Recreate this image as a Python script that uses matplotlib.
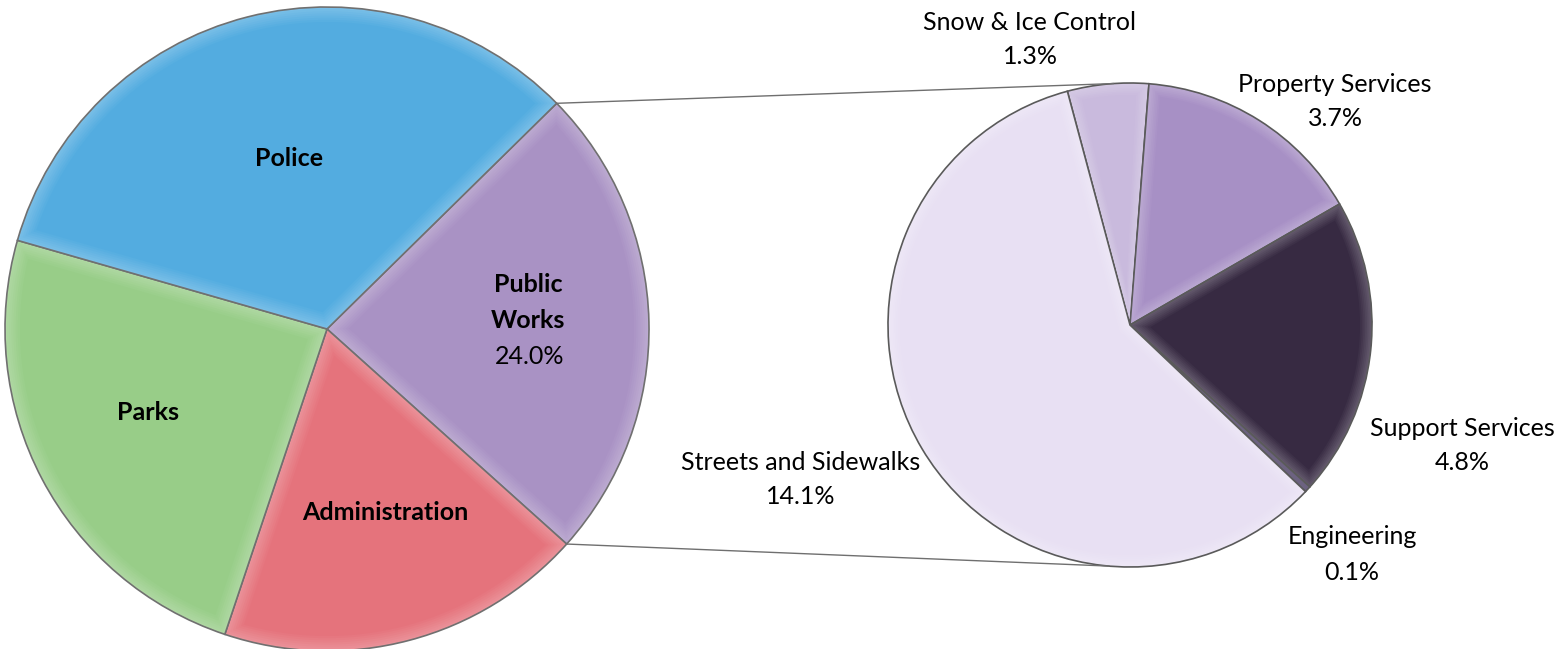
import matplotlib.pyplot as plt
import numpy as np
from matplotlib.patches import Polygon

plt.rcParams['font.family'] = ['Lato', 'DejaVu Sans']

# main budget split
main_labels = ['Public Works', 'Administration', 'Parks', 'Police']
main_values = [24.0, 18.5, 24.3, 33.2]
main_colors = ['#A992C4', '#E5737C', '#98CD88', '#53ACE0']

# breakdown of public works
sub_labels = ['Snow & Ice Control', 'Property Services', 'Support Services',
              'Engineering', 'Streets and Sidewalks']
sub_values = [1.3, 3.7, 4.8, 0.1, 14.1]
sub_colors = ['#C9BADD', '#A790C5', '#372A42', '#6C6280', '#E8E0F3']

W, H = 1559, 649
fig = plt.figure(figsize=(W / 100, H / 100), dpi=100)
ax = fig.add_axes([0, 0, 1, 1])

left_c, left_r = (327, H - 329), 322
right_c, right_r = (1130, H - 325), 242


def tint(c, f):
    rgb = np.array(plt.matplotlib.colors.to_rgb(c))
    if f < 0:
        return tuple(rgb * (1 + f))
    return tuple(rgb + (1 - rgb) * f)


def inset(w, d):
    cx, cy = w.center
    r = w.r
    t1, t2 = np.radians(w.theta1), np.radians(w.theta2)
    span = t2 - t1
    off = np.arcsin(min(d / (r - d), 1)) if d > 0 else 0
    arc = np.linspace(t1 + off, t2 - off, 90)
    pts = [(cx + (r - d) * np.cos(a), cy + (r - d) * np.sin(a)) for a in arc]
    mid = (t1 + t2) / 2
    k = d / max(np.sin(span / 2), 0.3)
    pts.append((cx + k * np.cos(mid), cy + k * np.sin(mid)))
    return pts


def bevel(wedges, colors, d, n=7):
    # soft rim: bands going from a light tint at the edge to the base colour
    for w, col in zip(wedges, colors):
        w.set_facecolor(tint(col, 0.22))
        if w.theta2 - w.theta1 < 3:
            w.set_facecolor(col)
            continue
        for i in range(1, n + 1):
            f = 0.22 * (1 - i / n)
            ax.add_patch(Polygon(inset(w, d * i / n), closed=True,
                                 facecolor=tint(col, f), edgecolor='none', zorder=3))


wl, _ = ax.pie(main_values, colors=main_colors, startangle=44.5, counterclock=False,
               center=left_c, radius=left_r,
               wedgeprops=dict(edgecolor='#707070', linewidth=1.2))
bevel(wl, main_colors, 15)

wr, _ = ax.pie(sub_values, colors=sub_colors, startangle=105, counterclock=False,
               center=right_c, radius=right_r,
               wedgeprops=dict(edgecolor='#5a5a5a', linewidth=1.2))
bevel(wr, sub_colors, 12)

# connector lines between the public works slice and the second pie
pw = wl[0]
for ang_l, ang_r in [(pw.theta2, 94), (pw.theta1, 265)]:
    a, b = np.radians(ang_l), np.radians(ang_r)
    ax.plot([left_c[0] + left_r * np.cos(a), right_c[0] + right_r * np.cos(b)],
            [left_c[1] + left_r * np.sin(a), right_c[1] + right_r * np.sin(b)],
            color='#6f6f6f', lw=1, zorder=1)

fs = 18
bold = dict(fontsize=fs, fontweight='bold', ha='center', va='center', zorder=5)
norm = dict(fontsize=fs, ha='center', va='center', zorder=5)

ax.text(289, H - 158, 'Police', **bold)
ax.text(528, H - 285, 'Public', **bold)
ax.text(528, H - 320, 'Works', **bold)
ax.text(530, H - 357, f'{main_values[0]:.1f}%', **norm)
ax.text(148, H - 412, 'Parks', **bold)
ax.text(385, H - 512, 'Administration', **bold)

sub_pos = [(1030, 22), (1335, 84), (1462, 428), (1352, 537), (801, 462)]
for lab, val, (x, y) in zip(sub_labels, sub_values, sub_pos):
    ax.text(x, H - y, lab, **norm)
    ax.text(x, H - y - 35, f'{val:.1f}%', **norm)

ax.set_xlim(0, W)
ax.set_ylim(0, H)
ax.set_aspect('auto')
ax.axis('off')

fig.savefig('out.png', dpi=100, facecolor='white')
